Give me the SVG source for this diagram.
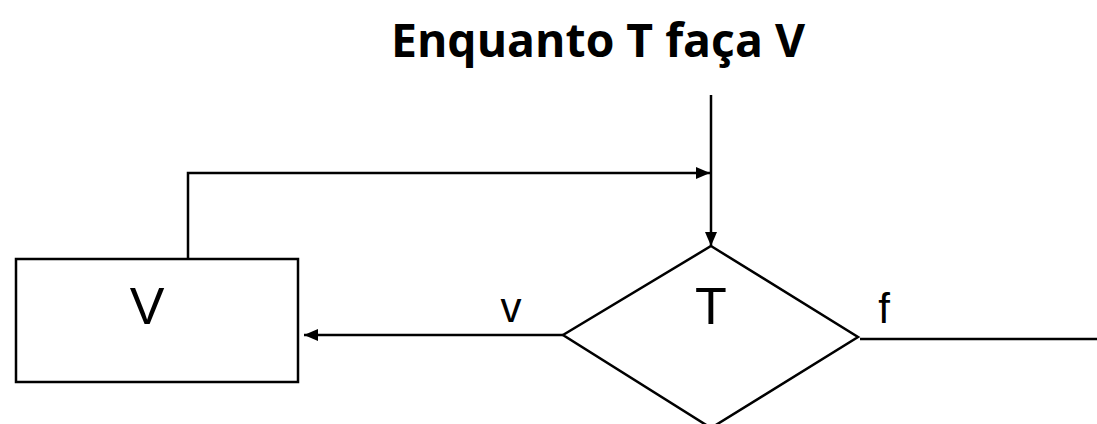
<svg xmlns="http://www.w3.org/2000/svg" width="1097" height="424" viewBox="0 0 1097 424">
<defs>
<style>
.ln{stroke:#000;stroke-width:2.5;fill:none}
.shape{stroke:#000;stroke-width:2.5;fill:#fff}
.lbl{font-family:"Liberation Sans",Arial,sans-serif;font-size:52px;fill:#000;text-anchor:middle}
.sm{font-family:"Liberation Sans",Arial,sans-serif;font-size:42px;fill:#000;text-anchor:middle}
.title{font-family:"Open Sans","Liberation Sans",sans-serif;font-weight:bold;font-size:46px;fill:#000;text-anchor:middle}
</style>
<marker id="ah" markerWidth="14" markerHeight="12" refX="14" refY="6" orient="auto" markerUnits="userSpaceOnUse">
<path d="M0,0 L14,6 L0,12 Z" fill="#000"/>
</marker>
</defs>
<rect width="1097" height="424" fill="#fff"/>
<text class="title" x="598" y="57" textLength="414" lengthAdjust="spacingAndGlyphs">Enquanto T faça V</text>
<g id="connectors">
<line class="ln" x1="711" y1="95" x2="711" y2="246" marker-end="url(#ah)"/>
<polyline class="ln" points="188,259 188,173 710,173" marker-end="url(#ah)"/>
<line class="ln" x1="563" y1="335" x2="304" y2="335" marker-end="url(#ah)"/>
<line class="ln" x1="860" y1="339" x2="1097" y2="339"/>
<text class="sm" x="511" y="322">v</text>
<text class="sm" x="884" y="323">f</text>
</g>
<g id="node-V">
<rect class="shape" x="16" y="259" width="282" height="123"/>
<text class="lbl" x="147" y="324">V</text>
</g>
<g id="node-T">
<polygon class="shape" points="711,246 858,337 711,428 563,335"/>
<text class="lbl" x="711" y="324">T</text>
</g>
</svg>
